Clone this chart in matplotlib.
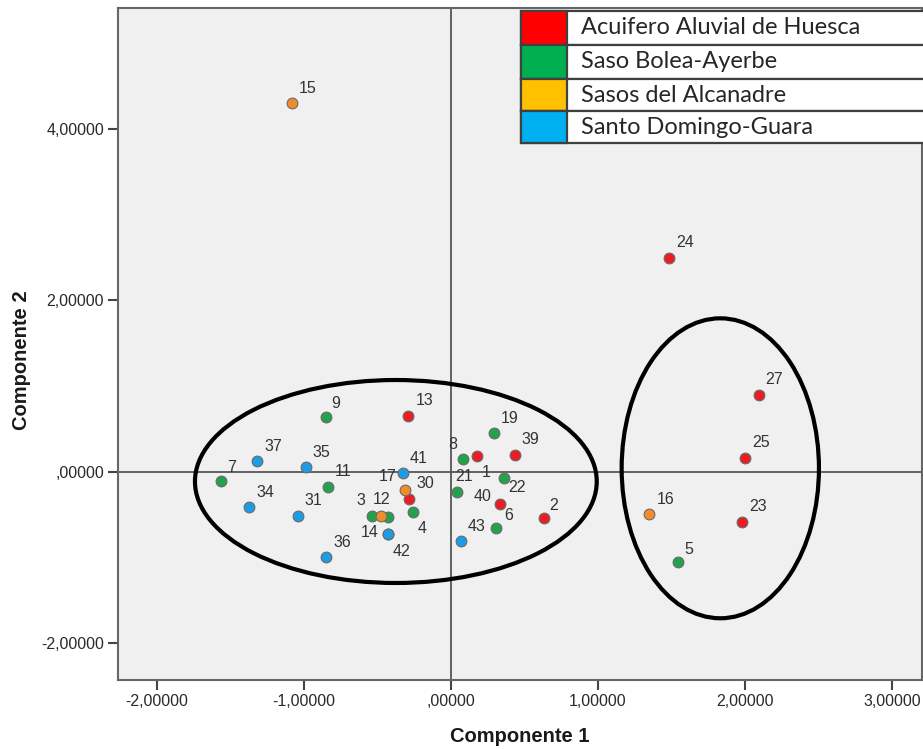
import matplotlib
matplotlib.use("Agg")
import matplotlib.pyplot as plt
from matplotlib.patches import Ellipse, Rectangle
from matplotlib.ticker import FuncFormatter

# PCA scores (Componente 1, Componente 2)
point_id = ['24', '27', '25', '23', '2', '13', '39', '1', '40', '30',
            '5', '9', '19', '8', '22', '21', '6', '7', '11', '4', '3', '12',
            '15', '16', '17', '',
            '37', '35', '41', '34', '31', '14', '42', '36', '43']
comp1 = [1.483, 2.093, 2.000, 1.982, 0.633, -0.290, 0.433, 0.179, 0.333, -0.284,
         1.546, -0.852, 0.290, 0.084, 0.361, 0.039, 0.306, -1.565, -0.837, -0.261, -0.539, -0.427,
         -1.082, 1.349, -0.313, -0.478,
         -1.318, -0.988, -0.329, -1.374, -1.043, -0.427, -0.427, -0.850, 0.068]
comp2 = [2.499, 0.902, 0.167, -0.579, -0.533, 0.657, 0.198, 0.187, -0.377, -0.315,
         -1.046, 0.645, 0.451, 0.148, -0.066, -0.237, -0.650, -0.105, -0.175, -0.463, -0.510, -0.521,
         4.303, -0.494, -0.210, -0.510,
         0.125, 0.058, -0.012, -0.412, -0.510, -0.727, -0.727, -0.995, -0.805]
group = ['A'] * 10 + ['B'] * 12 + ['C'] * 4 + ['D'] * 9

group_names = {'A': 'Acuifero Aluvial de Huesca', 'B': 'Saso Bolea-Ayerbe',
               'C': 'Sasos del Alcanadre', 'D': 'Santo Domingo-Guara'}
point_colors = {'A': '#ec1c24', 'B': '#22a24a', 'C': '#f28c28', 'D': '#1c9de3'}
swatch_colors = {'A': '#ff0000', 'B': '#00b050', 'C': '#ffc000', 'D': '#00b0f0'}

# label offsets in pixels (dx, dy) relative to the point
default_off = (7, 15)
label_off = {'2': (5, 12), '9': (6, 13), '7': (6, 13), '5': (6, 12),
             '17': (-26, 13), '4': (5, -17), '3': (-15, 15), '12': (-15, 17),
             '14': (-27, 2), '42': (4, -17), '8': (-15, 15), '1': (4, -17),
             '21': (-1, 16), '22': (4, -10), '40': (-26, 8), '6': (8, 12)}

fig = plt.figure(figsize=(9.23, 7.49), dpi=100)
ax = fig.add_axes([118 / 923, 69 / 749, 804 / 923, 672 / 749])
ax.set_facecolor('#f0f0f0')
ax.set_xlim(-2.265, 3.204)
ax.set_ylim(-2.426, 5.411)

ax.axhline(0, color='#555555', lw=1.3, zorder=1)
ax.axvline(0, color='#555555', lw=1.3, zorder=1)

for g in ['A', 'B', 'C', 'D']:
    xs = [x for x, gg in zip(comp1, group) if gg == g]
    ys = [y for y, gg in zip(comp2, group) if gg == g]
    ax.scatter(xs, ys, s=60, color=point_colors[g], edgecolor='#6a6a6a',
               linewidth=0.8, zorder=3)

for pid, x, y in zip(point_id, comp1, comp2):
    if not pid:
        continue
    dx, dy = label_off.get(pid, default_off)
    ax.annotate(pid, (x, y), xytext=(dx, dy), textcoords='offset pixels',
                ha='left', va='center', fontsize=11.5, color='#333333',
                family='Liberation Sans', zorder=4)

# cluster ellipses
ax.add_patch(Ellipse((-0.375, -0.111), 2.733, 2.367, fill=False, ec='black', lw=3, zorder=2))
ax.add_patch(Ellipse((1.832, 0.043), 1.342, 3.498, fill=False, ec='black', lw=3, zorder=2))

fmt = FuncFormatter(lambda v, p: ('%.5f' % v).replace('.', ',').replace('0,', ',', 1)
                    if abs(v) < 1e-9 else ('%.5f' % v).replace('.', ','))
ax.set_xticks([-2, -1, 0, 1, 2, 3])
ax.set_yticks([-2, 0, 2, 4])
ax.xaxis.set_major_formatter(fmt)
ax.yaxis.set_major_formatter(fmt)
ax.tick_params(length=7, width=1.5, color='#444444', labelsize=11.5,
               labelcolor='#2a2a2a', pad=3)
for lab in ax.get_xticklabels() + ax.get_yticklabels():
    lab.set_family('Liberation Sans')
for sp in ax.spines.values():
    sp.set_color('#666666')
    sp.set_linewidth(1.5)

fig.text(520 / 923, 1 - 736 / 749, 'Componente 1', ha='center', va='center',
         fontsize=14.5, fontweight='bold', family='Liberation Sans', color='#1a1a1a')
fig.text(22 / 923, 1 - 360 / 749, 'Componente 2', ha='center', va='center',
         rotation=90, fontsize=14.5, fontweight='bold', family='Liberation Sans',
         color='#1a1a1a')

# legend box drawn as a table of cells
lx0, lx1, sw = 521, 940, 46
row_tops = [11, 45, 79, 111]
row_h = [34, 34, 32, 32]
for i, g in enumerate(['A', 'B', 'C', 'D']):
    top = row_tops[i]
    h = row_h[i]
    y0 = 1 - (top + h) / 749
    fig.add_artist(Rectangle((lx0 / 923, y0), (lx1 - lx0) / 923, h / 749,
                             transform=fig.transFigure, fc='white', ec='#404040', lw=1.6))
    fig.add_artist(Rectangle((lx0 / 923, y0), sw / 923, h / 749,
                             transform=fig.transFigure, fc=swatch_colors[g], ec='#404040', lw=1.6))
    fig.text(581 / 923, 1 - (top + h / 2) / 749, group_names[g], ha='left', va='center',
             fontsize=17, family='Lato', color='#262626')

fig.savefig('out.png', dpi=100)
